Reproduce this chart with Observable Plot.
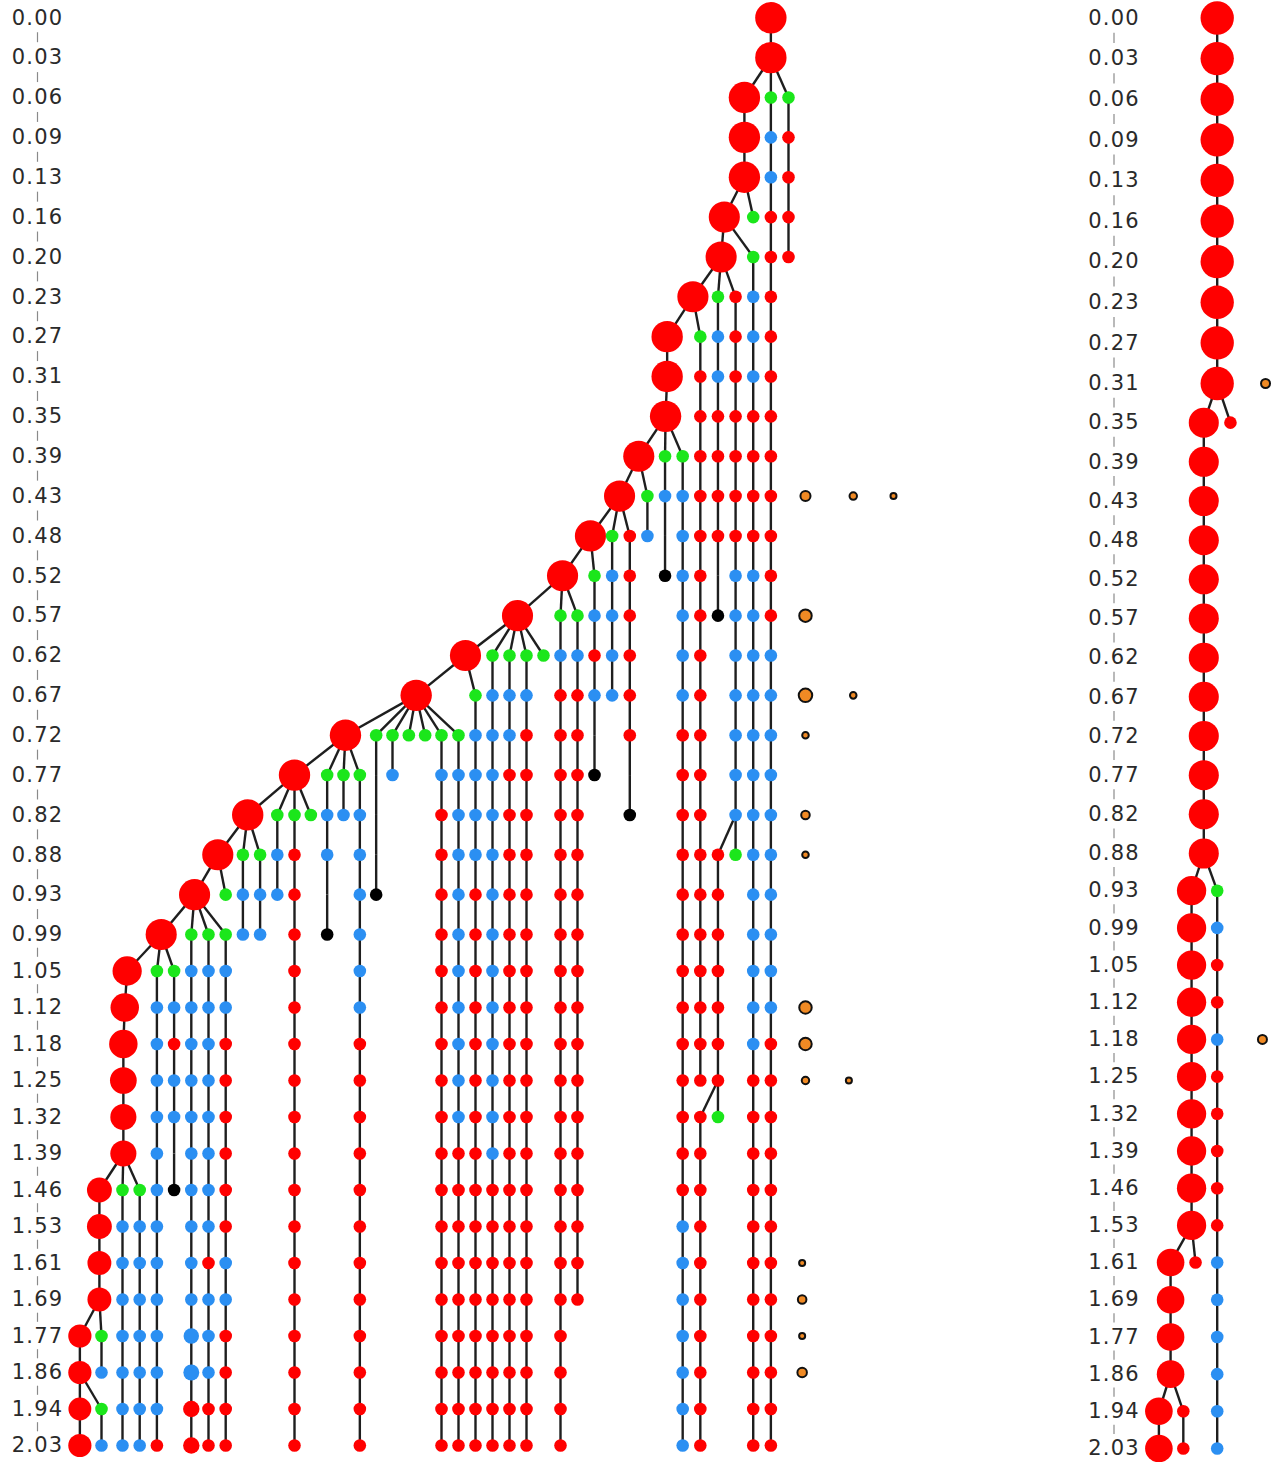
<!DOCTYPE html>
<html>
<head>
<meta charset="utf-8">
<script src="https://cdn.jsdelivr.net/npm/d3@7"></script>
<script src="https://cdn.jsdelivr.net/npm/@observablehq/plot@0.6"></script>
<style>
  html, body { margin: 0; padding: 0; background: #fff; }
  #chart { display: flex; width: 1284px; height: 1462px; overflow: hidden; }
  #chart > svg { flex: none; }
  #chart text { letter-spacing: 1.2px; }
</style>
</head>
<body>
<div id="chart"></div>
<script>
// Sampling times (one row per time step)
const timeLabels = [
  "0.00", "0.03", "0.06", "0.09", "0.13", "0.16", "0.20", "0.23", "0.27", "0.31",
  "0.35", "0.39", "0.43", "0.48", "0.52", "0.57", "0.62", "0.67", "0.72", "0.77",
  "0.82", "0.88", "0.93", "0.99", "1.05", "1.12", "1.18", "1.25", "1.32", "1.39",
  "1.46", "1.53", "1.61", "1.69", "1.77", "1.86", "1.94", "2.03"
];

// Cell states: r = red, g = green (new branch), b = blue, k = black (end)
const stateCodes = ["r", "g", "b", "k"];
const stateColors = ["#ff0000", "#1be61b", "#2b8ff2", "#000000"];

// ---- Full lineage ----
// Slot of the main clone at each time step, and its relative size
const mainSlot = [39, 39, 37.5, 37.5, 37.5, 36.36, 36.18, 34.58, 33.12, 33.12,
  33.03, 31.51, 30.42, 28.76, 27.12, 24.47, 21.41, 18.45, 14.12, 11,
  8.28, 6.54, 5.19, 3.25, 1.27, 1.13, 1.05, 1.05, 1.05, 1.05,
  -0.1, -0.1, -0.1, -0.1, -1.03, -1.03, -1.03, -1.03];
const mainWeight = [6.2, 6.2, 6.2, 6.2, 6.2, 6.1, 6.1, 6.1, 6.2, 6.2,
  6.2, 6.1, 6.1, 6.1, 6.1, 6.1, 6.1, 6.2, 6.2, 6.2,
  6.2, 6.1, 6.1, 6.1, 5.4, 5.1, 5.1, 4.5, 4.3, 4.3,
  3.9, 3.9, 3.6, 3.6, 3.4, 3.4, 3.3, 3.4];

// One string per side lineage (slot 0 .. 40), one character per time step:
// "." no cell, "|" lineage continues unsampled,
// lower case = descends from the cell above, upper case = branches off the main clone
const laneStates = [
  ".......... .......... .......... ....GbGb",
  ".......... .......... .......... Gbbbbbbb",
  ".......... .......... .......... Gbbbbbbb",
  ".......... .......... ....Gbbbbb bbbbbbbr",
  ".......... .......... ....Gbrbb| k.......",
  ".......... .......... ...Gbbbbbb bbbbbbrr",
  ".......... .......... ...Gbbbbbb bbrbbbrr",
  ".......... .......... ..GGbbrrrr rrbbrrrr",
  ".......... .......... .Gbb...... ........",
  ".......... .......... .Gbb...... ........",
  ".......... .......... Gbb....... ........",
  ".......... .......... Grrrrrrrrr rrrrrrrr",
  ".......... .......... G......... ........",
  ".......... .........G bb|k...... ........",
  ".......... .........G b......... ........",
  ".......... .........G bbbbbbrrrr rrrrrrrr",
  ".......... ........G| ||k....... ........",
  ".......... ........Gb .......... ........",
  ".......... ........G. .......... ........",
  ".......... ........G. .......... ........",
  ".......... ........Gb rrrrrrrrrr rrrrrrrr",
  ".......... ........Gb bbbbbbbbbr rrrrrrrr",
  ".......... .......Gbb bbrrrrrrrr rrrrrrrr",
  ".......... ......Gbbb bbbbbbbbbb rrrrrrrr",
  ".......... ......Gbbr rrrrrrrrrr rrrrrrrr",
  ".......... ......Gbrr rrrrrrrrrr rrrrrrrr",
  ".......... ......G... .......... ........",
  ".......... .....Gbrrr rrrrrrrrrr rrrrrrrr",
  ".......... .....Gbrrr rrrrrrrrrr rrrr....",
  ".......... ....Gbrb|k .......... ........",
  ".......... ...Gbbbb.. .......... ........",
  ".......... ...Rrrrrr| k......... ........",
  ".......... ..Gb...... .......... ........",
  ".......... .Gb|k..... .......... ........",
  ".......... .Gbbbbbbrr rrrrrrrrrr rbbbbbbb",
  "........Gr rrrrrrrrrr rrrrrrrrRr rrrrrrrr",
  ".......Gbb rrrr|k.... .Rrrrrrrg. ........",
  ".......Rrr rrrrbbbbbb bg........ ........",
  ".....GGbbb rrrrbbbbbb bbbbbbbrrr rrrrrrrr",
  "..Gbbrrrrr rrrrrrbbbb bbbbbbrrrr rrrrrrrr",
  "..Grrrr... .......... .......... ........"
].map(s => s.replace(/ /g, ""));
const laneSlot = d3.range(laneStates.length);

// Branches that split from a side lineage instead of the main clone: [lane, step, parent lane]
const crossBranches = [[36, 21, 37], [35, 28, 36]];
// Cells carrying more than one unit: [lane, step, weight]
const heavyCells = [[5, 34, 1.5], [5, 35, 1.6], [5, 36, 1.7], [5, 37, 1.7]];

// Unattached clusters (orange): step, slot, weight
const looseStep   = [12, 12, 12, 15, 17, 17, 18, 20, 21, 25, 26, 27, 27, 32, 33, 34, 35];
const looseSlot   = [40.97, 43.7, 46, 40.97, 40.97, 43.7, 40.97, 40.97, 40.97, 40.97, 40.97, 40.97, 43.45, 40.78, 40.78, 40.78, 40.78];
const looseWeight = [0.64, 0.35, 0.23, 0.98, 1.15, 0.27, 0.27, 0.46, 0.27, 0.98, 0.98, 0.35, 0.23, 0.23, 0.46, 0.23, 0.57];

// ---- Reduced lineage ----
const subMainSlot = [4, 4, 4, 4, 4, 4, 4, 4, 4, 4,
  3.22, 3.22, 3.22, 3.22, 3.22, 3.22, 3.22, 3.22, 3.22, 3.22,
  3.22, 3.22, 2.51, 2.51, 2.51, 2.51, 2.51, 2.51, 2.51, 2.51,
  2.51, 2.51, 1.29, 1.29, 1.29, 1.29, 0.61, 0.61];
const subMainWeight = [7, 7, 7, 7, 7, 7, 7, 7, 7, 7,
  5.7, 5.7, 5.7, 5.7, 5.7, 5.7, 5.7, 5.7, 5.7, 5.7,
  5.7, 5.7, 5.4, 5.4, 5.4, 5.4, 5.4, 5.4, 5.4, 5.4,
  5.4, 5.4, 4.8, 4.8, 4.8, 4.8, 4.8, 4.8];
const subLaneStates = [
  ".......... .......... ..Gbrrbrrr rrbbbbbb",
  ".......... R......... .......... ........",
  ".......... .......... .......... ..R.....",
  ".......... .......... .......... ......Rr"
].map(s => s.replace(/ /g, ""));
const subLaneSlot = [4, 4.77, 2.74, 2.03];
const subLooseStep = [9, 26];
const subLooseSlot = [6.81, 6.63];
const subLooseWeight = [0.51, 0.51];

// Turn the lineage strings into cells and parent-child links
function buildTree(mSlot, mWeight, lSlot, lStates, cross, heavy) {
  const main = mSlot.map((s, t) => ({t, slot: s, weight: mWeight[t], state: "r"}));
  const cells = [];
  const links = [];
  for (let t = 1; t < main.length; ++t) {
    links.push({x1: mSlot[t - 1], y1: t - 1, x2: mSlot[t], y2: t});
  }
  lStates.forEach((str, k) => {
    const s = lSlot[k];
    for (let t = 0; t < str.length; ++t) {
      const c = str[t];
      if (c === ".") continue;
      const branch = c >= "A" && c <= "Z";
      if (branch) {
        const cb = cross.find(([l, st]) => l === k && st === t);
        links.push({x1: cb ? lSlot[cb[2]] : mSlot[t - 1], y1: t - 1, x2: s, y2: t});
      } else if (t > 0 && str[t - 1] !== ".") {
        links.push({x1: s, y1: t - 1, x2: s, y2: t});
      }
      if (c !== "|") {
        const h = heavy.find(([l, st]) => l === k && st === t);
        cells.push({t, slot: s, state: c.toLowerCase(), weight: h ? h[2] : 1});
      }
    }
  });
  return {main, cells, links};
}

// labelX: horizontal centre of the time labels (centre of the label frame)
function lineagePlot({width, labelX, xDomain, xRange, yDomain, yRange, tree, loose}) {
  return Plot.plot({
    width,
    height: 1462,
    marginLeft: 0,
    marginRight: width - 2 * labelX,
    marginTop: 17,
    marginBottom: 17,
    x: {type: "linear", domain: xDomain, range: xRange, axis: null},
    y: {type: "linear", domain: yDomain, range: yRange, axis: null},
    r: {type: "sqrt", domain: [0, 1], range: [0, 6.3]},
    color: {domain: stateCodes, range: stateColors},
    style: {background: "white"},
    marks: [
      Plot.ruleX(d3.range(timeLabels.length - 1), {
        x: null, y1: (i) => i + 0.375, y2: (i) => i + 0.625,
        stroke: "#8a8a8a", strokeWidth: 1.2
      }),
      Plot.text(timeLabels, {
        y: (d, i) => i, text: (d) => d,
        fontSize: 21, fontFamily: "DejaVu Sans", fill: "#2a2a2a"
      }),
      Plot.link(tree.links, {x1: "x1", y1: "y1", x2: "x2", y2: "y2", stroke: "#1e1e1e", strokeWidth: 2.4}),
      Plot.dot(tree.main, {x: "slot", y: "t", r: "weight", fill: "state"}),
      Plot.dot(tree.cells, {x: "slot", y: "t", r: "weight", fill: "state"}),
      Plot.dot(loose, {x: "slot", y: "t", r: "weight", fill: "#f08a24", stroke: "#111", strokeWidth: 2})
    ]
  });
}

const fullTree = buildTree(mainSlot, mainWeight, laneSlot, laneStates, crossBranches, heavyCells);
const fullLoose = looseStep.map((t, i) => ({t, slot: looseSlot[i], weight: looseWeight[i]}));
const subTree = buildTree(subMainSlot, subMainWeight, subLaneSlot, subLaneStates, [], []);
const subLoose = subLooseStep.map((t, i) => ({t, slot: subLooseSlot[i], weight: subLooseWeight[i]}));

const chart = document.getElementById("chart");
chart.append(lineagePlot({
  width: 1060,
  labelX: 37,
  xDomain: [-1, 0, 1, 11, 20, 29, 40, 46],
  xRange: [80, 101, 122, 294, 441, 594, 788, 893],
  yDomain: [0, 23, 37],
  yRange: [17.3, 934, 1445],
  tree: fullTree,
  loose: fullLoose
}));
chart.append(lineagePlot({
  width: 224,
  labelX: 53.5,
  xDomain: [0, 10],
  xRange: [87.9, 259.9],
  yDomain: [0, 9, 21, 37],
  yRange: [17.5, 383, 853, 1448],
  tree: subTree,
  loose: subLoose
}));
</script>
</body>
</html>
